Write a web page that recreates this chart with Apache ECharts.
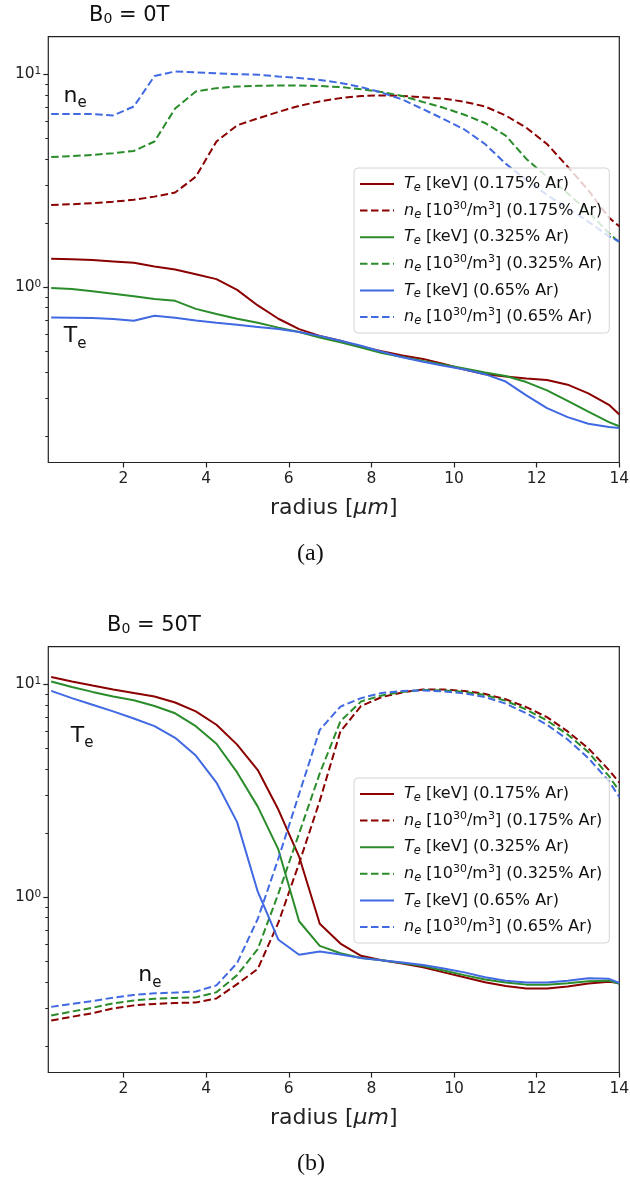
<!DOCTYPE html>
<html>
<head>
<meta charset="utf-8">
<title>Te / ne radial profiles</title>
<script src="https://cdn.jsdelivr.net/npm/echarts@6/dist/echarts.min.js"></script>
<style>
  html, body { margin: 0; padding: 0; background: #fff; }
  #main { width: 630px; height: 1180px; }
</style>
</head>
<body>
<div id="main"></div>
<script>
// radius of each cell centre [um]
var radius = [0.25, 0.75, 1.25, 1.75, 2.25, 2.75, 3.25, 3.75, 4.25, 4.75, 5.25, 5.75, 6.25, 6.75,
  7.25, 7.75, 8.25, 8.75, 9.25, 9.75, 10.25, 10.75, 11.25, 11.75, 12.25, 12.75, 13.25, 13.75, 14];

// (a) B0 = 0T
var teA175 = [1.36, 1.35, 1.34, 1.32, 1.30, 1.25, 1.21, 1.15, 1.09, 0.97, 0.82, 0.71, 0.635, 0.59,
  0.56, 0.525, 0.50, 0.477, 0.46, 0.435, 0.41, 0.39, 0.38, 0.372, 0.366, 0.348, 0.317, 0.28, 0.252];
var neA175 = [2.43, 2.45, 2.48, 2.52, 2.57, 2.66, 2.78, 3.3, 4.83, 5.75, 6.2, 6.65, 7.1, 7.45,
  7.72, 7.9, 7.95, 7.9, 7.8, 7.68, 7.42, 7.05, 6.4, 5.6, 4.7, 3.68, 2.85, 2.12, 1.93];
var teA325 = [0.99, 0.98, 0.955, 0.93, 0.905, 0.88, 0.862, 0.79, 0.747, 0.71, 0.68, 0.645, 0.615, 0.58,
  0.55, 0.52, 0.49, 0.47, 0.45, 0.432, 0.415, 0.397, 0.382, 0.358, 0.327, 0.292, 0.26, 0.232, 0.222];
var neA325 = [4.08, 4.12, 4.18, 4.25, 4.36, 4.83, 6.9, 8.3, 8.6, 8.75, 8.82, 8.85, 8.85, 8.8,
  8.7, 8.5, 8.25, 7.9, 7.4, 6.95, 6.45, 5.9, 5.15, 4.0, 3.3, 2.76, 2.26, 1.79, 1.62];
var teA65 = [0.72, 0.718, 0.715, 0.708, 0.695, 0.734, 0.718, 0.697, 0.68, 0.665, 0.65, 0.635, 0.615, 0.59,
  0.56, 0.53, 0.497, 0.468, 0.446, 0.427, 0.41, 0.39, 0.36, 0.31, 0.27, 0.245, 0.228, 0.22, 0.218];
var neA65 = [6.5, 6.5, 6.5, 6.4, 7.05, 9.8, 10.3, 10.2, 10.1, 10.0, 9.95, 9.75, 9.6, 9.4,
  9.1, 8.7, 8.2, 7.6, 6.85, 6.15, 5.5, 4.7, 3.8, 3.19, 2.71, 2.35, 2.03, 1.73, 1.64];

// (b) B0 = 50T
var teB175 = [10.8, 10.3, 9.85, 9.45, 9.1, 8.75, 8.2, 7.45, 6.45, 5.2, 3.95, 2.57, 1.55, 0.75,
  0.605, 0.53, 0.505, 0.487, 0.468, 0.443, 0.42, 0.398, 0.382, 0.372, 0.372, 0.38, 0.393, 0.40, 0.395];
var neB175 = [0.263, 0.274, 0.285, 0.3, 0.31, 0.315, 0.318, 0.32, 0.334, 0.39, 0.46, 0.76, 1.44, 2.83,
  6.0, 7.9, 8.7, 9.15, 9.45, 9.45, 9.3, 9.0, 8.5, 7.8, 7.0, 6.0, 5.0, 3.95, 3.45];
var teB325 = [10.3, 9.7, 9.2, 8.75, 8.4, 7.9, 7.3, 6.35, 5.25, 3.85, 2.66, 1.67, 0.77, 0.59,
  0.545, 0.517, 0.505, 0.49, 0.474, 0.452, 0.43, 0.41, 0.397, 0.388, 0.387, 0.394, 0.402, 0.405, 0.392];
var neB325 = [0.278, 0.29, 0.302, 0.317, 0.327, 0.333, 0.336, 0.338, 0.357, 0.43, 0.57, 1.04, 1.99, 3.81,
  6.7, 8.3, 8.85, 9.2, 9.4, 9.35, 9.2, 8.9, 8.35, 7.6, 6.75, 5.8, 4.8, 3.7, 3.15];
var teB65 = [9.3, 8.6, 8.0, 7.45, 6.9, 6.35, 5.6, 4.62, 3.45, 2.25, 1.06, 0.63, 0.536, 0.555,
  0.537, 0.518, 0.505, 0.493, 0.48, 0.462, 0.443, 0.42, 0.405, 0.397, 0.397, 0.405, 0.416, 0.413, 0.395];
var neB65 = [0.305, 0.315, 0.325, 0.337, 0.347, 0.353, 0.356, 0.36, 0.385, 0.49, 0.79, 1.52, 3.05, 6.1,
  7.85, 8.6, 9.1, 9.3, 9.35, 9.25, 9.05, 8.7, 8.1, 7.3, 6.45, 5.5, 4.5, 3.5, 2.95];

var seriesNames = ['Te (0.175% Ar)', 'ne (0.175% Ar)', 'Te (0.325% Ar)', 'ne (0.325% Ar)', 'Te (0.65% Ar)', 'ne (0.65% Ar)'];
var legendLabels = [
  '{it|T}{sub|e} [keV] (0.175% Ar)',
  '{it|n}{sub|e} [10{sup|30}/m{sup|3}] (0.175% Ar)',
  '{it|T}{sub|e} [keV] (0.325% Ar)',
  '{it|n}{sub|e} [10{sup|30}/m{sup|3}] (0.325% Ar)',
  '{it|T}{sub|e} [keV] (0.65% Ar)',
  '{it|n}{sub|e} [10{sup|30}/m{sup|3}] (0.65% Ar)'
];
var colors = ['#8b0000', '#8b0000', '#2a8c2a', '#2a8c2a', '#4169e1', '#4169e1'];
var panelData = [
  [teA175, neA175, teA325, neA325, teA65, neA65],
  [teB175, neB175, teB325, neB325, teB65, neB65]
];

var xTicks = [2, 4, 6, 8, 10, 12, 14];
var yMajor = [1, 10];
var yMinor = [0.2, 0.3, 0.4, 0.5, 0.6, 0.7, 0.8, 0.9, 2, 3, 4, 5, 6, 7, 8, 9];

// in-plot annotations, data coordinates
var annotations = [
  [{ t: 'n', x: 0.83, y: 7.9 }, { t: 'T', x: 0.83, y: 0.585 }],
  [{ t: 'T', x: 1.0, y: 5.72 }, { t: 'n', x: 2.64, y: 0.427 }]
];

var FONT = 'DejaVu Sans';
var gridTops = [36.7, 646.7];
var legendTops = [168, 778];

var grids = [], xAxes = [], yAxes = [], series = [], legends = [];
for (var p = 0; p < 2; p++) {
  grids.push({
    left: 48.3, top: gridTops[p], width: 571, height: 425.8,
    show: true, borderColor: '#222', borderWidth: 1.2, backgroundColor: 'transparent',
    containLabel: false, outerBoundsMode: 'none'
  });
  xAxes.push({
    type: 'value', gridIndex: p, min: 0.18, max: 14,
    name: 'radius [{it|\u03bcm}]', nameLocation: 'middle', nameGap: 35,
    nameTextStyle: { fontFamily: FONT, fontSize: 22, color: '#222',
      rich: { it: { fontFamily: FONT, fontStyle: 'italic', fontSize: 22, color: '#222' } } },
    axisLine: { show: false },
    splitLine: { show: false },
    axisTick: { show: true, customValues: xTicks, length: 5, lineStyle: { color: '#222', width: 1.2 } },
    axisLabel: { customValues: xTicks, fontFamily: FONT, fontSize: 15.5, color: '#222', margin: 8 }
  });
  yAxes.push({
    type: 'log', logBase: 10, gridIndex: p, min: 0.15, max: 15, position: 'left',
    axisLine: { show: false },
    splitLine: { show: false },
    axisTick: { show: true, customValues: yMajor, length: 5, lineStyle: { color: '#222', width: 1.2 } },
    axisLabel: {
      customValues: yMajor, fontFamily: FONT, fontSize: 15.5, color: '#222', margin: 7,
      formatter: function (v) { return '10{sup|' + Math.round(Math.log10(v)) + '}'; },
      rich: { sup: { fontFamily: FONT, fontSize: 10.5, color: '#222', verticalAlign: 'top', lineHeight: 10 } }
    }
  });
  yAxes.push({
    type: 'log', logBase: 10, gridIndex: p, min: 0.15, max: 15, position: 'left', offset: 0,
    axisLine: { show: false }, splitLine: { show: false }, axisLabel: { show: false },
    axisTick: { show: true, customValues: yMinor, length: 3, lineStyle: { color: '#222', width: 1 } }
  });

  for (var i = 0; i < 6; i++) {
    var vals = panelData[p][i];
    var s = {
      name: seriesNames[i], type: 'line', xAxisIndex: p, yAxisIndex: 2 * p,
      data: radius.map(function (r, k) { return [r, vals[k]]; }),
      symbol: 'none', silent: true, z: 3,
      color: colors[i],
      lineStyle: { color: colors[i], width: 2, type: (i % 2 === 1) ? [7.5, 3.5] : 'solid' }
    };
    if (i === 0) {
      s.markPoint = {
        symbol: 'circle', symbolSize: 0, silent: true,
        label: {
          show: true, position: 'inside', color: '#111', fontFamily: FONT, fontSize: 22, lineHeight: 30,
          formatter: function (d) { return d.name + '{s|e}'; },
          rich: { s: { fontFamily: FONT, fontSize: 15, color: '#111', verticalAlign: 'bottom', lineHeight: 15 } }
        },
        data: annotations[p].map(function (a) { return { name: a.t, coord: [a.x, a.y] }; })
      };
    }
    series.push(s);
  }

  legends.push({
    orient: 'vertical', left: 354, top: legendTops[p],
    data: seriesNames, selectedMode: false,
    itemWidth: 34, itemHeight: 14, itemGap: 6.6,
    padding: [6, 7, 6, 5],
    itemStyle: { opacity: 0 },
    backgroundColor: 'rgba(255,255,255,0.8)', borderColor: '#d4d4d4', borderWidth: 1, borderRadius: 4,
    formatter: function (name) { return legendLabels[seriesNames.indexOf(name)]; },
    textStyle: {
      fontFamily: FONT, fontSize: 16, color: '#111', lineHeight: 20, padding: [0, 0, 0, 5],
      rich: {
        it: { fontFamily: FONT, fontStyle: 'italic', fontSize: 16, color: '#111' },
        sub: { fontFamily: FONT, fontStyle: 'italic', fontSize: 11.5, color: '#111', verticalAlign: 'bottom', lineHeight: 12 },
        sup: { fontFamily: FONT, fontSize: 11, color: '#111', verticalAlign: 'top', lineHeight: 11 }
      }
    }
  });
}

var titleRich = {
  b: { fontFamily: FONT, fontSize: 21, color: '#111', fontWeight: 'normal' },
  s: { fontFamily: FONT, fontSize: 14, color: '#111', fontWeight: 'normal', verticalAlign: 'bottom', lineHeight: 14 }
};

var option = {
  animation: false,
  backgroundColor: '#fff',
  title: [
    { text: '{b|B}{s|0}{b| = 0T}', left: 89, top: 5, padding: 0, textStyle: { fontWeight: 'normal', rich: titleRich } },
    { text: '{b|B}{s|0}{b| = 50T}', left: 107, top: 615, padding: 0, textStyle: { fontWeight: 'normal', rich: titleRich } },
    { text: '(a)', left: 297, top: 542, padding: 0,
      textStyle: { fontFamily: 'Liberation Serif', fontSize: 24, fontWeight: 'normal', color: '#111' } },
    { text: '(b)', left: 297, top: 1152, padding: 0,
      textStyle: { fontFamily: 'Liberation Serif', fontSize: 24, fontWeight: 'normal', color: '#111' } }
  ],
  grid: grids,
  xAxis: xAxes,
  yAxis: yAxes,
  legend: legends,
  series: series
};

var chart = echarts.init(document.getElementById('main'), null, { renderer: 'canvas' });
chart.setOption(option);
</script>
</body>
</html>
